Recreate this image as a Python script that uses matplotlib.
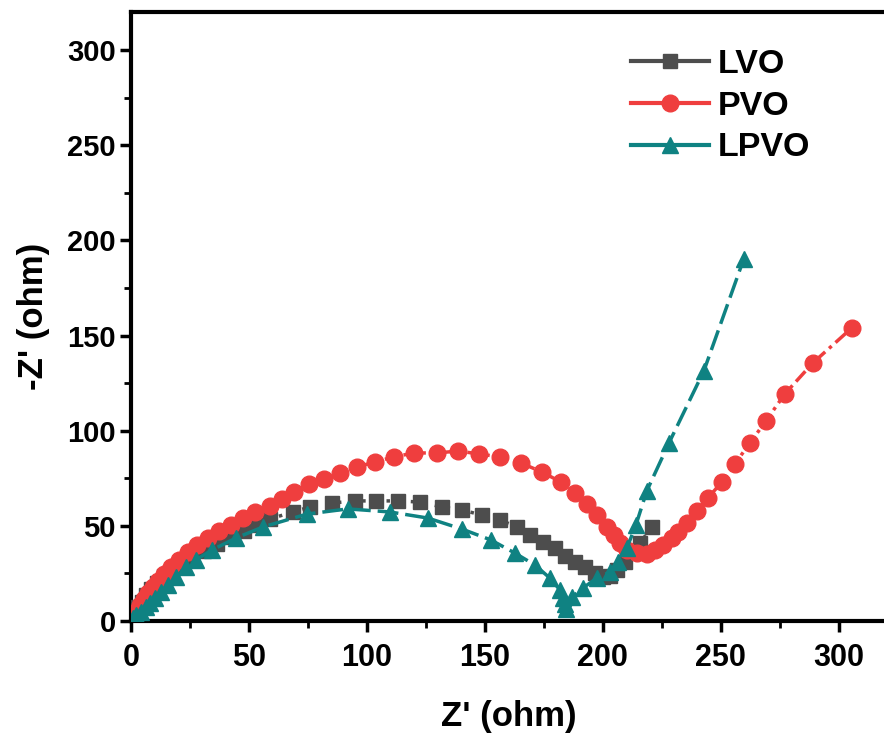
import matplotlib
matplotlib.use("Agg")
import matplotlib.pyplot as plt
from matplotlib.lines import Line2D
from matplotlib.ticker import MultipleLocator

plt.rcParams['font.family'] = ['Liberation Sans', 'DejaVu Sans']
plt.rcParams['font.weight'] = 'bold'

series_names = ["LVO", "PVO", "LPVO"]

lvo_x = [0.8, 1.8, 3.0, 4.5, 6.3, 8.5, 11.0, 14.0, 17.5, 21.5, 26.0, 31.0, 36.5, 42.5, 48.0,
         53.8, 58.9, 68.6, 75.8, 85.2, 94.9, 103.8, 113.1, 122.5, 131.8, 140.3, 148.7, 156.4,
         163.6, 169.1, 174.6, 179.7, 183.9, 188.1, 192.4, 196.6, 200.0, 203.0, 206.0, 209.3,
         212.7, 215.7, 220.8]
lvo_y = [1.8, 4.3, 7.2, 10.2, 13.5, 16.8, 20.1, 23.5, 26.9, 30.3, 33.6, 37.0, 40.5, 44.0, 47.2,
         50.4, 53.6, 57.3, 59.9, 62.0, 63.1, 63.1, 63.1, 62.5, 59.9, 58.3, 55.7, 53.1,
         49.4, 45.2, 41.5, 38.4, 34.2, 31.0, 28.4, 25.2, 23.1, 23.6, 26.8, 31.0,
         36.3, 41.0, 49.4]

pvo_x = [1.0, 1.8, 2.8, 4.0, 5.5, 7.2, 9.2, 11.5, 14.0, 17.0, 20.3, 24.0, 28.0, 32.5, 37.3,
         42.3, 47.5, 52.5, 58.9, 64.0, 69.0, 75.4, 81.8, 88.6, 95.8, 103.4, 111.4, 119.9,
         129.7, 138.6, 147.5, 156.4, 165.3, 174.2, 182.2, 188.1, 193.2, 197.5, 201.7, 204.7,
         207.2, 210.2, 214.4, 218.6, 222.0, 225.4, 229.2, 231.8, 235.6, 239.8, 244.5, 250.4,
         255.9, 262.3, 269.1, 277.1, 289.0, 305.5]
pvo_y = [1.5, 3.5, 5.8, 8.5, 11.5, 14.5, 17.8, 21.2, 24.8, 28.5, 32.3, 36.0, 39.8, 43.5, 47.2,
         50.7, 54.0, 57.3, 60.4, 64.1, 67.8, 72.0, 74.6, 77.8, 80.9, 83.6, 86.2, 88.3,
         88.3, 89.3, 87.8, 86.2, 83.0, 78.3, 73.0, 67.3, 61.5, 55.7, 49.4, 45.2,
         41.0, 37.3, 35.7, 35.2, 37.3, 39.9, 43.6, 46.8, 51.5, 57.8, 64.6, 73.0,
         82.5, 93.5, 105.1, 119.3, 135.6, 154.0]

lpvo_x = [0.8, 2.1, 4.2, 6.4, 8.1, 10.2, 12.7, 15.7, 19.1, 23.3, 27.5, 34.3, 44.5, 55.9, 74.6,
          91.9, 109.7, 125.8, 140.3, 152.5, 162.7, 171.2, 177.5, 181.8, 183.1, 183.9, 184.3,
          186.9, 191.5, 197.5, 203.0, 206.4, 210.2, 214.0, 218.6, 228.0, 242.8, 259.7]
lpvo_y = [1.6, 3.2, 4.7, 7.4, 9.5, 12.1, 15.2, 18.9, 23.1, 28.4, 32.1, 37.3, 43.6, 49.4, 56.2,
          58.9, 57.3, 54.1, 48.3, 42.6, 35.7, 29.4, 22.6, 16.3, 12.1, 8.9, 6.3,
          12.6, 17.3, 22.6, 25.7, 31.0, 38.4, 50.4, 68.3, 93.5, 131.4, 190.2]

x_ticks = [0, 50, 100, 150, 200, 250, 300]
y_ticks = [0, 50, 100, 150, 200, 250, 300]

c_lvo = "#4d4d4d"
c_pvo = "#ef3e3e"
c_lpvo = "#0f8282"

fig = plt.figure(figsize=(8.84, 7.40), dpi=100)
ax = fig.add_axes([131/884, 119/740, 755/884, 609/740])

ax.plot(lvo_x, lvo_y, color=c_lvo, lw=2.5, ls=(0, (1, 2.5)), marker='s', ms=10.5,
        mec=c_lvo, mfc=c_lvo, zorder=3)
ax.plot(pvo_x, pvo_y, color=c_pvo, lw=2.5, ls=(0, (4, 1.5, 1, 1.5)), marker='o', ms=12,
        mec=c_pvo, mfc=c_pvo, zorder=4)
ax.plot(lpvo_x, lpvo_y, color=c_lpvo, lw=2.5, ls=(0, (6, 2)), marker='^', ms=12,
        mec=c_lpvo, mfc=c_lpvo, zorder=5)

ax.set_xlim(0, 320)
ax.set_ylim(0, 320)
ax.set_xticks(x_ticks)
ax.set_yticks(y_ticks)
ax.xaxis.set_minor_locator(MultipleLocator(25))
ax.yaxis.set_minor_locator(MultipleLocator(25))
ax.tick_params(which='major', direction='out', length=8, width=2.5, labelsize=21, pad=3)
ax.tick_params(axis='x', which='major', labelsize=22, pad=8)
ax.tick_params(which='minor', direction='out', length=5, width=2.0)
ax.tick_params(top=False, right=False)
for lab in ax.get_xticklabels() + ax.get_yticklabels():
    lab.set_fontweight('bold')
for sp in ax.spines.values():
    sp.set_linewidth(3)

ax.set_xlabel("Z' (ohm)", fontsize=25, fontweight='bold', labelpad=19)
ax.set_ylabel("-Z' (ohm)", fontsize=25, fontweight='bold', labelpad=12)

handles = [Line2D([], [], color=c, lw=3, marker=m, ms=ms, mec=c, mfc=c)
           for c, m, ms in [(c_lvo, 's', 10.5), (c_pvo, 'o', 12), (c_lpvo, '^', 12)]]
leg = ax.legend(handles, series_names, loc='upper right', bbox_to_anchor=(0.94, 0.99),
                frameon=False, handlelength=2.3, labelspacing=0.32,
                handletextpad=0.25, prop={'weight': 'bold', 'size': 24.5})

fig.savefig("out.png", dpi=100)
